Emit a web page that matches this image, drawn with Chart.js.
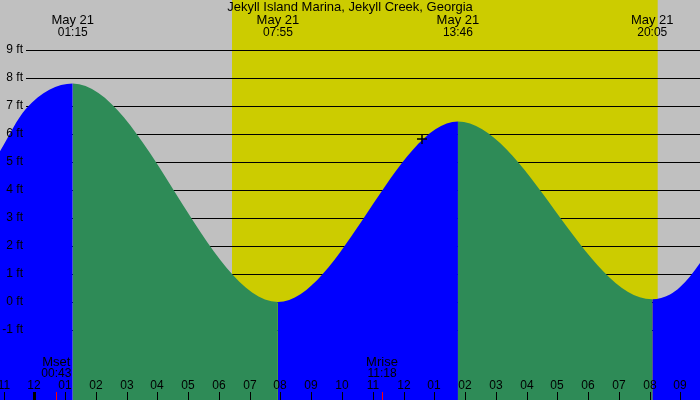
<!DOCTYPE html>
<html>
<head>
<meta charset="utf-8">
<script src="https://cdn.jsdelivr.net/npm/chart.js@4.4.0/dist/chart.umd.min.js"></script>
<style>
  body { margin: 0; background: #c0c0c0; }
  canvas { display: block; }
</style>
</head>
<body>
<canvas id="graficaMarea" width="700" height="400"></canvas>
<script>
// tide curve (hours after midnight May 21, feet)
const tideHours = [-1.115, -0.27, 1.25, 7.917, 13.767, 20.083, 20.66, 20.98, 21.31, 21.635];
const tideFeet = [5.38, 6.9, 7.8, 0.0, 6.45, 0.1, 0.27, 0.53, 0.91, 1.39];

// high / low tide events
const eventHours = [1.25, 7.917, 13.767, 20.083];
const eventDates = ['May 21', 'May 21', 'May 21', 'May 21'];
const eventTimes = ['01:15', '07:55', '13:46', '20:05'];

// sunrise, sunset
const sunHours = [6.425, 20.26];

// moon set / rise
const moonHours = [0.717, 11.3];
const moonNames = ['Mset', 'Mrise'];
const moonTimes = ['00:43', '11:18'];

// current reading mark
const nowHour = [12.6];
const nowFeet = [5.82];

// axis ticks
const footTicks = [-1, 0, 1, 2, 3, 4, 5, 6, 7, 8, 9];
const hourTicks = [-1, 0, 1, 2, 3, 4, 5, 6, 7, 8, 9, 10, 11, 12, 13, 14, 15, 16, 17, 18, 19, 20, 21];
const hourLabels = ['11', '12', '01', '02', '03', '04', '05', '06', '07', '08', '09', '10',
  '11', '12', '01', '02', '03', '04', '05', '06', '07', '08', '09'];

const titulo = 'Jekyll Island Marina, Jekyll Creek, Georgia';
const fuente = '12px "Liberation Sans", Arial, sans-serif';
const fuenteGrande = '13px "Liberation Sans", Arial, sans-serif';

document.addEventListener('DOMContentLoaded', function () {
  const ctx = document.getElementById('graficaMarea').getContext('2d');

  const fondo = {
    id: 'fondo',
    beforeDraw(chart) {
      const c = chart.ctx;
      const x = chart.scales.x;
      c.save();
      c.fillStyle = '#c0c0c0';
      c.fillRect(0, 0, chart.width, chart.height);
      const x0 = x.getPixelForValue(sunHours[0]);
      const x1 = x.getPixelForValue(sunHours[1]);
      c.fillStyle = '#cccc00';
      c.fillRect(x0, 0, x1 - x0, chart.height);
      c.restore();
    },
    beforeDatasetsDraw(chart) {
      const c = chart.ctx;
      const y = chart.scales.y;
      c.save();
      c.strokeStyle = '#000';
      c.lineWidth = 1;
      footTicks.forEach(function (v) {
        const py = Math.round(y.getPixelForValue(v)) + 0.5;
        c.beginPath();
        c.moveTo(26, py);
        c.lineTo(chart.width, py);
        c.stroke();
      });
      c.restore();
    },
    afterDatasetsDraw(chart) {
      const c = chart.ctx;
      const x = chart.scales.x;
      const y = chart.scales.y;
      c.save();
      c.font = fuente;
      c.fillStyle = '#000';
      c.textBaseline = 'middle';

      // foot labels
      c.textAlign = 'right';
      footTicks.forEach(function (v) {
        c.fillText(v + ' ft', 23, y.getPixelForValue(v));
      });

      // title and tide times
      c.textAlign = 'center';
      c.font = fuenteGrande;
      c.fillText(titulo, chart.width / 2, 7.5);
      eventHours.forEach(function (h, i) {
        const px = x.getPixelForValue(h);
        c.font = fuenteGrande;
        c.fillText(eventDates[i], px, 20);
        c.font = fuente;
        c.fillText(eventTimes[i], px, 32.5);
      });

      // hour axis
      c.font = fuente;
      hourTicks.forEach(function (h, i) {
        const px = Math.round(x.getPixelForValue(h));
        c.fillText(hourLabels[i], px, 386);
        if (h === 0) {
          c.fillRect(px - 1, 392, 3, 8);
        } else {
          c.fillRect(px, 392, 1, 8);
        }
      });

      // moon
      moonHours.forEach(function (h, i) {
        const px = x.getPixelForValue(h);
        c.fillStyle = '#000';
        c.font = fuenteGrande;
        c.fillText(moonNames[i], px, 362);
        c.font = fuente;
        c.fillText(moonTimes[i], px, 373.5);
        c.fillStyle = '#ff0000';
        c.fillRect(Math.round(px), 392, 1, 8);
      });
      c.restore();
    }
  };

  const grafica = new Chart(ctx, {
    type: 'line',
    data: {
      datasets: [{
        label: 'Marca',
        data: nowHour.map((h, i) => ({ x: h, y: nowFeet[i] })),
        showLine: false,
        pointStyle: 'cross',
        pointRadius: 5,
        borderColor: '#000',
        borderWidth: 1.5,
        order: 1
      }, {
        label: 'Marea',
        data: tideHours.map((h, i) => ({ x: h, y: tideFeet[i] })),
        cubicInterpolationMode: 'monotone',
        borderWidth: 0,
        borderColor: 'rgba(0,0,0,0)',
        pointRadius: 0,
        fill: 'start',
        backgroundColor: '#0000ff',
        segment: {
          backgroundColor: c => c.p1.parsed.y > c.p0.parsed.y ? '#0000ff' : '#2e8b57'
        },
        order: 2
      }]
    },
    options: {
      responsive: false,
      animation: false,
      devicePixelRatio: 1,
      layout: { padding: 0, autoPadding: false },
      plugins: {
        legend: { display: false },
        tooltip: { enabled: false }
      },
      scales: {
        x: { type: 'linear', min: -1.115, max: 21.635, display: false },
        y: { min: -3.5, max: 10.786, display: false }
      }
    },
    plugins: [fondo]
  });
});
</script>
</body>
</html>
